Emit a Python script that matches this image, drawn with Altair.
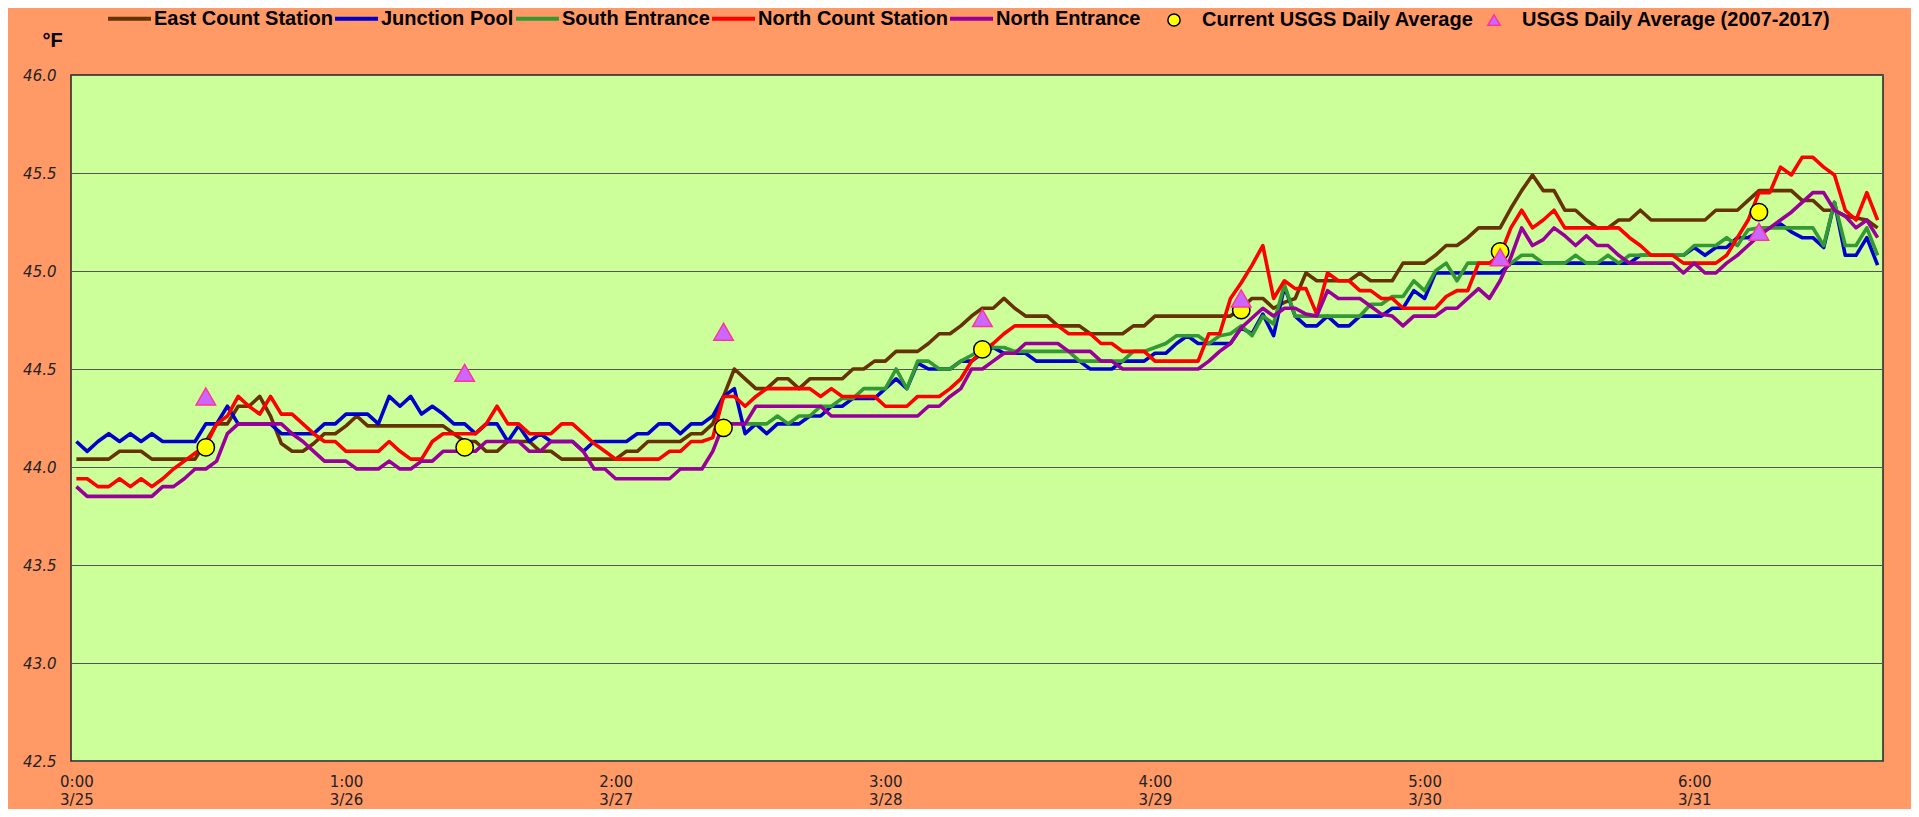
import json
import altair as alt
import pandas as pd

# hourly categories, 3/25 0:00 -> 3/31 23:00
hour_index = list(range(168))

east_count = [
    44.04, 44.04, 44.04, 44.04, 44.08, 44.08, 44.08, 44.04, 44.04, 44.04, 44.04, 44.04,
    44.13, 44.22, 44.22, 44.31, 44.31, 44.36, 44.26, 44.12, 44.08, 44.08, 44.12, 44.17,
    44.17, 44.21, 44.26, 44.21, 44.21, 44.21, 44.21, 44.21, 44.21, 44.21, 44.21, 44.17,
    44.13, 44.13, 44.08, 44.08, 44.13, 44.13, 44.13, 44.08, 44.08, 44.04, 44.04, 44.04,
    44.04, 44.04, 44.04, 44.08, 44.08, 44.13, 44.13, 44.13, 44.13, 44.17, 44.17, 44.22,
    44.36, 44.50, 44.45, 44.40, 44.40, 44.45, 44.45, 44.40, 44.45, 44.45, 44.45, 44.45,
    44.50, 44.50, 44.54, 44.54, 44.59, 44.59, 44.59, 44.63, 44.68, 44.68, 44.72, 44.77,
    44.81, 44.81, 44.86, 44.81, 44.77, 44.77, 44.77, 44.72, 44.72, 44.72, 44.68, 44.68,
    44.68, 44.68, 44.72, 44.72, 44.77, 44.77, 44.77, 44.77, 44.77, 44.77, 44.77, 44.77,
    44.81, 44.86, 44.86, 44.81, 44.84, 44.86, 44.99, 44.95, 44.95, 44.95, 44.95, 44.99,
    44.95, 44.95, 44.95, 45.04, 45.04, 45.04, 45.08, 45.13, 45.13, 45.17, 45.22, 45.22,
    45.22, 45.32, 45.41, 45.49, 45.41, 45.41, 45.31, 45.31, 45.26, 45.22, 45.22, 45.26,
    45.26, 45.31, 45.26, 45.26, 45.26, 45.26, 45.26, 45.26, 45.31, 45.31, 45.31, 45.36,
    45.41, 45.41, 45.41, 45.41, 45.36, 45.36, 45.31, 45.31, 45.28, 45.27, 45.26, 45.22,
]

junction_pool = [
    44.13, 44.08, 44.13, 44.17, 44.13, 44.17, 44.13, 44.17, 44.13, 44.13, 44.13, 44.13,
    44.22, 44.22, 44.31, 44.22, 44.22, 44.22, 44.22, 44.17, 44.17, 44.17, 44.17, 44.22,
    44.22, 44.27, 44.27, 44.27, 44.22, 44.36, 44.31, 44.36, 44.27, 44.31, 44.27, 44.22,
    44.22, 44.17, 44.22, 44.22, 44.13, 44.21, 44.13, 44.17, 44.13, 44.13, 44.13, 44.08,
    44.13, 44.13, 44.13, 44.13, 44.17, 44.17, 44.22, 44.22, 44.17, 44.22, 44.22, 44.26,
    44.36, 44.40, 44.17, 44.22, 44.17, 44.22, 44.22, 44.22, 44.26, 44.26, 44.31, 44.31,
    44.35, 44.35, 44.35, 44.40, 44.45, 44.40, 44.53, 44.50, 44.50, 44.50, 44.54, 44.54,
    44.58, 44.61, 44.58, 44.58, 44.58, 44.54, 44.54, 44.54, 44.54, 44.54, 44.50, 44.50,
    44.50, 44.54, 44.54, 44.54, 44.58, 44.58, 44.63, 44.67, 44.63, 44.63, 44.63, 44.63,
    44.71, 44.68, 44.78, 44.67, 44.92, 44.77, 44.72, 44.72, 44.77, 44.72, 44.72, 44.77,
    44.77, 44.77, 44.81, 44.81, 44.90, 44.86, 44.99, 44.99, 44.99, 44.99, 44.99, 44.99,
    44.99, 45.04, 45.04, 45.04, 45.04, 45.04, 45.04, 45.04, 45.04, 45.04, 45.04, 45.04,
    45.04, 45.08, 45.08, 45.08, 45.08, 45.08, 45.12, 45.08, 45.12, 45.12, 45.17, 45.17,
    45.20, 45.22, 45.24, 45.20, 45.17, 45.17, 45.12, 45.35, 45.08, 45.08, 45.17, 45.03,
]

# South Entrance begins at hour 62
south_start = 62
south_entrance = [
    44.22, 44.22, 44.22, 44.26, 44.22, 44.26, 44.26, 44.31, 44.31, 44.35,
    44.35, 44.40, 44.40, 44.40, 44.50, 44.40, 44.54, 44.54, 44.50, 44.50, 44.54, 44.57,
    44.60, 44.61, 44.61, 44.59, 44.59, 44.59, 44.59, 44.59, 44.59, 44.54, 44.54, 44.54,
    44.54, 44.54, 44.59, 44.59, 44.61, 44.63, 44.67, 44.67, 44.67, 44.63, 44.67, 44.68,
    44.72, 44.67, 44.77, 44.73, 44.93, 44.77, 44.77, 44.77, 44.77, 44.77, 44.77, 44.77,
    44.83, 44.83, 44.87, 44.87, 44.95, 44.90, 45.00, 45.04, 44.95, 45.04, 45.04, 45.04,
    45.04, 45.04, 45.08, 45.08, 45.04, 45.04, 45.04, 45.08, 45.04, 45.04, 45.08, 45.04,
    45.08, 45.08, 45.08, 45.08, 45.08, 45.08, 45.13, 45.13, 45.13, 45.17, 45.13, 45.21,
    45.22, 45.22, 45.22, 45.22, 45.22, 45.22, 45.13, 45.35, 45.13, 45.13, 45.22, 45.08,
]

north_count = [
    43.94, 43.94, 43.90, 43.90, 43.94, 43.90, 43.94, 43.90, 43.94, 43.99, 44.03, 44.07,
    44.11, 44.22, 44.26, 44.36, 44.31, 44.27, 44.36, 44.27, 44.27, 44.22, 44.17, 44.13,
    44.13, 44.08, 44.08, 44.08, 44.08, 44.13, 44.08, 44.04, 44.04, 44.13, 44.17, 44.17,
    44.17, 44.17, 44.22, 44.31, 44.22, 44.22, 44.17, 44.17, 44.17, 44.22, 44.22, 44.17,
    44.12, 44.08, 44.04, 44.04, 44.04, 44.04, 44.04, 44.08, 44.08, 44.13, 44.13, 44.15,
    44.36, 44.36, 44.31, 44.36, 44.40, 44.40, 44.40, 44.40, 44.40, 44.36, 44.40, 44.36,
    44.36, 44.36, 44.36, 44.31, 44.31, 44.31, 44.36, 44.36, 44.36, 44.40, 44.45, 44.54,
    44.59, 44.63, 44.68, 44.72, 44.72, 44.72, 44.72, 44.72, 44.68, 44.68, 44.68, 44.63,
    44.63, 44.59, 44.59, 44.59, 44.54, 44.54, 44.54, 44.54, 44.54, 44.68, 44.68, 44.86,
    44.94, 45.03, 45.13, 44.86, 44.95, 44.91, 44.91, 44.78, 44.99, 44.95, 44.95, 44.90,
    44.90, 44.86, 44.86, 44.81, 44.81, 44.81, 44.81, 44.87, 44.90, 44.90, 45.04, 45.04,
    45.08, 45.22, 45.31, 45.22, 45.26, 45.31, 45.22, 45.22, 45.22, 45.22, 45.22, 45.22,
    45.17, 45.13, 45.08, 45.08, 45.08, 45.04, 45.04, 45.04, 45.04, 45.08, 45.17, 45.26,
    45.40, 45.40, 45.53, 45.49, 45.58, 45.58, 45.53, 45.49, 45.31, 45.26, 45.40, 45.26,
]

north_entrance = [
    43.90, 43.85, 43.85, 43.85, 43.85, 43.85, 43.85, 43.85, 43.90, 43.90, 43.94, 43.99,
    43.99, 44.03, 44.17, 44.22, 44.22, 44.22, 44.22, 44.22, 44.17, 44.13, 44.08, 44.03,
    44.03, 44.03, 43.99, 43.99, 43.99, 44.03, 43.99, 43.99, 44.03, 44.03, 44.08, 44.08,
    44.08, 44.08, 44.13, 44.13, 44.13, 44.13, 44.08, 44.08, 44.13, 44.13, 44.13, 44.08,
    43.99, 43.99, 43.94, 43.94, 43.94, 43.94, 43.94, 43.94, 43.99, 43.99, 43.99, 44.08,
    44.22, 44.22, 44.22, 44.31, 44.31, 44.31, 44.31, 44.31, 44.31, 44.31, 44.26, 44.26,
    44.26, 44.26, 44.26, 44.26, 44.26, 44.26, 44.26, 44.31, 44.31, 44.36, 44.40, 44.50,
    44.50, 44.54, 44.58, 44.58, 44.63, 44.63, 44.63, 44.63, 44.59, 44.59, 44.59, 44.54,
    44.54, 44.50, 44.50, 44.50, 44.50, 44.50, 44.50, 44.50, 44.50, 44.54, 44.59, 44.63,
    44.71, 44.76, 44.81, 44.77, 44.81, 44.81, 44.78, 44.77, 44.90, 44.86, 44.86, 44.86,
    44.82, 44.78, 44.77, 44.72, 44.77, 44.77, 44.77, 44.81, 44.81, 44.86, 44.91, 44.86,
    44.95, 45.07, 45.22, 45.13, 45.16, 45.22, 45.18, 45.13, 45.18, 45.13, 45.13, 45.08,
    45.04, 45.04, 45.04, 45.04, 45.04, 44.99, 45.04, 44.99, 44.99, 45.04, 45.08, 45.13,
    45.18, 45.22, 45.26, 45.30, 45.35, 45.40, 45.40, 45.31, 45.28, 45.22, 45.26, 45.17,
]

# daily averages plotted at noon of each day
daily_index = [12, 36, 60, 84, 108, 132, 156]
current_usgs = [44.1, 44.1, 44.2, 44.6, 44.8, 45.1, 45.3]
usgs_2007_2017 = [44.36, 44.48, 44.69, 44.76, 44.86, 45.07, 45.20]

line_names = [
    "East Count Station",
    "Junction Pool",
    "South Entrance",
    "North Count Station",
    "North Entrance",
]
line_colors = ["#663300", "#0000CC", "#339933", "#FF0000", "#990099"]

point_names = ["Current USGS Daily Average", "USGS Daily Average (2007-2017)"]
point_fills = ["#FFFF00", "#CC66FF"]
point_strokes = ["#000000", "#FF3399"]
point_shapes = ["circle", "triangle-up"]

tick_index = [0, 25, 50, 75, 100, 125, 150]
tick_time = ["0:00", "1:00", "2:00", "3:00", "4:00", "5:00", "6:00"]
tick_date = ["3/25", "3/26", "3/27", "3/28", "3/29", "3/30", "3/31"]
y_ticks = [42.5, 43.0, 43.5, 44.0, 44.5, 45.0, 45.5, 46.0]

BG = "#FF9966"
PLOT_BG = "#CCFF99"
TEXT_FONT = "Liberation Sans, Arial, sans-serif"
AXIS_FONT = "DejaVu Sans, Verdana, sans-serif"

# ---- tables -------------------------------------------------------------
rows = []
for name, vals, start in [
    (line_names[0], east_count, 0),
    (line_names[1], junction_pool, 0),
    (line_names[2], south_entrance, south_start),
    (line_names[3], north_count, 0),
    (line_names[4], north_entrance, 0),
]:
    for i, v in enumerate(vals):
        rows.append({"idx": hour_index[start + i], "temp": v, "series": name})
lines_df = pd.DataFrame(rows)

pts_df = pd.DataFrame({
    "idx": daily_index + daily_index,
    "temp": current_usgs + usgs_2007_2017,
    "series": [point_names[0]] * len(daily_index) + [point_names[1]] * len(daily_index),
})

# ---- axes / legends --------------------------------------------------------
ti = json.dumps(tick_index)
label_expr = (
    f"[{json.dumps(tick_time)}[indexof({ti}, datum.value)], "
    f"{json.dumps(tick_date)}[indexof({ti}, datum.value)]]"
)

x_enc = alt.X(
    "idx:Q",
    scale=alt.Scale(domain=[-0.5, 167.5], nice=False, zero=False),
    axis=alt.Axis(
        values=tick_index, labelExpr=label_expr, title=None, ticks=False, domain=False,
        grid=False, labelFont=AXIS_FONT, labelFontSize=15, labelColor="#222222",
        labelPadding=13, labelLineHeight=18, labelAngle=0, labelFlush=False,
        labelOverlap=False,
    ),
)
y_enc = alt.Y(
    "temp:Q",
    scale=alt.Scale(domain=[42.5, 46.0], nice=False, zero=False),
    axis=alt.Axis(
        values=y_ticks, format=".1f", title="°F", titleAngle=0, titleX=-19, titleY=-35,
        titleAlign="center", titleBaseline="middle", titleFont=TEXT_FONT, titleFontSize=20,
        titleFontWeight="bold", titleColor="black",
        labelFont=AXIS_FONT, labelFontStyle="italic", labelFontSize=15,
        labelColor="#222222", labelPadding=15, ticks=False, domain=False,
        grid=True, gridColor="#555555", gridWidth=1, labelFlush=False,
    ),
)

line_legend = alt.Legend(
    title=None, orient="none", legendX=35, legendY=-80, direction="horizontal",
    symbolType="stroke", symbolSize=1849, symbolStrokeWidth=4,
    labelFont=TEXT_FONT, labelFontSize=20, labelFontWeight="bold", labelColor="black",
    labelOffset=1, columnPadding=-10, labelLimit=600, padding=0,
)
point_legend = alt.Legend(
    title=None, orient="none", legendX=1093, legendY=-65, direction="horizontal",
    symbolSize=150, symbolStrokeWidth=1.5, symbolOpacity=1,
    labelFont=TEXT_FONT, labelFontSize=20, labelFontWeight="bold", labelColor="black",
    labelOffset=18, columnPadding=10, labelLimit=600, padding=0,
)

color_enc = alt.Color(
    "series:N",
    scale=alt.Scale(domain=line_names, range=line_colors),
    legend=line_legend,
)
fill_enc = alt.Fill(
    "series:N", scale=alt.Scale(domain=point_names, range=point_fills), legend=point_legend
)
stroke_enc = alt.Stroke(
    "series:N", scale=alt.Scale(domain=point_names, range=point_strokes), legend=point_legend
)
shape_enc = alt.Shape(
    "series:N", scale=alt.Scale(domain=point_names, range=point_shapes), legend=point_legend
)

base = alt.Chart(lines_df)
layers = []
for name in line_names:
    layers.append(
        base.transform_filter(alt.datum.series == name)
        .mark_line(strokeWidth=3.6, strokeJoin="round")
        .encode(x=x_enc, y=y_enc, color=color_enc, order="idx:Q")
    )

pts = alt.Chart(pts_df)
circles = (
    pts.transform_filter(alt.datum.series == point_names[0])
    .mark_point(filled=True, size=300, strokeWidth=1.5, opacity=1)
    .encode(x=x_enc, y=y_enc, fill=fill_enc, stroke=stroke_enc, shape=shape_enc)
)
triangles = (
    pts.transform_filter(alt.datum.series == point_names[1])
    .mark_point(filled=True, size=380, strokeWidth=1.5, opacity=1)
    .encode(x=x_enc, y=y_enc, fill=fill_enc, stroke=stroke_enc, shape=shape_enc)
)

chart = (
    alt.layer(*layers, circles, triangles)
    .properties(
        width=1812, height=686,
        padding={"left": 63, "top": 67, "right": 28, "bottom": 48},
        autosize=alt.AutoSizeParams(type="none"),
        background=BG,
    )
    .configure_view(fill=PLOT_BG, stroke="#222222", strokeWidth=1.5)
)

chart.save("out.html", embed_options={"renderer": "svg", "actions": False})
